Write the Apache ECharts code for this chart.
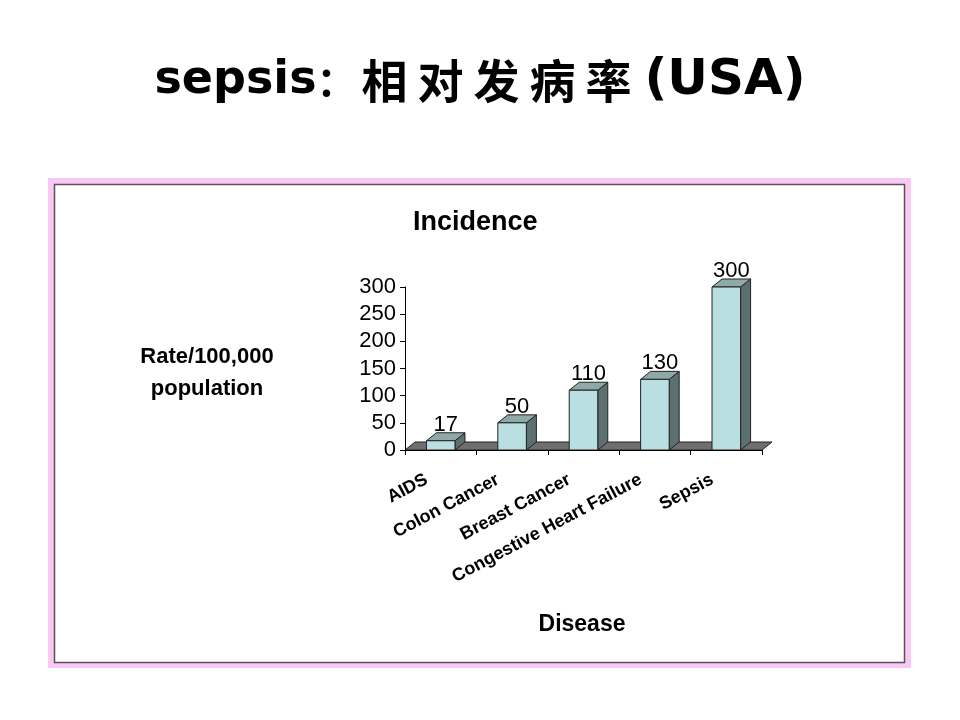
<!DOCTYPE html>
<html>
<head>
<meta charset="utf-8">
<script src="https://cdn.jsdelivr.net/npm/echarts@6/dist/echarts.min.js"></script>
<style>
  html, body { margin: 0; padding: 0; background: #fff; }
  #main { width: 960px; height: 720px; }
</style>
</head>
<body>
<div id="main"></div>
<script>
var chartDom = document.getElementById('main');
var myChart = echarts.init(chartDom);
var option;

// data
const diseases = ['AIDS', 'Colon Cancer', 'Breast Cancer', 'Congestive Heart Failure', 'Sepsis'];
const rates = [17, 50, 110, 130, 300];
const yTicks = [0, 50, 100, 150, 200, 250, 300];

const frontColor = '#b9dfe3';
const topColor = '#8fa8a8';
const sideColor = '#5c7070';
const floorColor = '#6f6f6f';
const edgeColor = '#222';
const DX = 10;   // depth offset of the fake 3d
const DY = 8;

function renderFloor(params, api)
{
  const cs = params.coordSys;
  const x0 = cs.x, x1 = cs.x + cs.width, by = cs.y + cs.height;
  return {
    type: 'polygon',
    shape: {
      points: [[x0, by], [x0 + DX, by - DY], [x1 + DX, by - DY], [x1, by]]
    },
    style: { fill: floorColor, stroke: edgeColor, lineWidth: 1 }
  };
}

function renderBar(params, api)
{
  const idx = api.value(0);
  const val = api.value(1);
  const base = api.coord([idx, 0]);
  const top = api.coord([idx, val]);
  const bw = api.size([1, 0])[0] * 0.4;
  const x0 = base[0] - bw / 2, x1 = base[0] + bw / 2;
  const ty = top[1], by = base[1];
  const st = { stroke: edgeColor, lineWidth: 1 };
  return {
    type: 'group',
    children: [
      {
        type: 'polygon',
        shape: { points: [[x1, ty], [x1 + DX, ty - DY], [x1 + DX, by - DY], [x1, by]] },
        style: Object.assign({ fill: sideColor }, st)
      },
      {
        type: 'polygon',
        shape: { points: [[x0, ty], [x0 + DX, ty - DY], [x1 + DX, ty - DY], [x1, ty]] },
        style: Object.assign({ fill: topColor }, st)
      },
      {
        type: 'rect',
        shape: { x: x0, y: ty, width: bw, height: by - ty },
        style: Object.assign({ fill: frontColor }, st)
      },
      {
        type: 'text',
        x: base[0] + DX / 2,
        y: ty - DY + 3,
        style: {
          text: String(val),
          fill: '#000',
          font: '22px "Liberation Sans Narrow", "Liberation Sans", Arial, sans-serif',
          align: 'center',
          verticalAlign: 'bottom'
        }
      }
    ]
  };
}

option = {
  backgroundColor: '#fff',
  animation: false,
  title: {
    left: 'center',
    top: 51,
    text: '{s|sepsis}{b|：}{c|相}{c|对}{c|发}{c|病}{c|率}{a|(USA)}',
    textStyle: {
      rich: {
        s: { fontFamily: 'DejaVu Sans', fontWeight: 'bold', fontSize: 46, color: '#000' },
        a: { fontFamily: 'DejaVu Sans', fontWeight: 'bold', fontSize: 50, color: '#000', padding: [0, 0, 0, 8] },
        b: { fontFamily: 'Noto Sans CJK SC', fontWeight: 'bold', fontSize: 40, color: '#000' },
        c: { fontFamily: 'Noto Sans CJK SC', fontWeight: 'bold', fontSize: 46, color: '#000', padding: [0, 5] }
      }
    }
  },
  graphic: [
    {
      type: 'rect',
      shape: { x: 51, y: 181, width: 857, height: 484 },
      style: { fill: 'none', stroke: '#f8c9f3', lineWidth: 6 },
      z: 0
    },
    {
      type: 'rect',
      shape: { x: 54.5, y: 184.5, width: 850, height: 478 },
      style: { fill: 'none', stroke: '#5b4f5b', lineWidth: 1.5 },
      z: 1
    },
    {
      type: 'text',
      left: 413, top: 209,
      style: { text: 'Incidence', font: 'bold 27px "Liberation Sans", Arial, sans-serif', fill: '#000' }
    },
    {
      type: 'text',
      x: 207, y: 373,
      style: {
        text: 'Rate/100,000\npopulation',
        font: 'bold 22px "Liberation Sans", Arial, sans-serif',
        lineHeight: 32,
        align: 'center',
        verticalAlign: 'middle',
        fill: '#000'
      }
    },
    {
      type: 'text',
      x: 582, y: 625,
      style: {
        text: 'Disease',
        font: 'bold 23px "Liberation Sans", Arial, sans-serif',
        align: 'center',
        verticalAlign: 'middle',
        fill: '#000'
      }
    }
  ],
  grid: {
    left: 405,
    right: 198,
    top: 287,
    bottom: 270
  },
  xAxis: {
    type: 'category',
    data: diseases,
    axisLine: { lineStyle: { color: '#000', width: 1 } },
    axisTick: { show: true, length: 5, lineStyle: { color: '#000' } },
    axisLabel: {
      interval: 0,
      rotate: 28,
      margin: 21,
      padding: [0, 16, 0, 0],
      color: '#000',
      fontFamily: 'Liberation Sans',
      fontWeight: 'bold',
      fontSize: 18
    },
    z: 5
  },
  yAxis: {
    type: 'value',
    min: 0,
    max: 300,
    interval: 50,
    axisLine: { show: true, lineStyle: { color: '#000', width: 1 } },
    axisTick: { show: true, length: 5, lineStyle: { color: '#000' } },
    splitLine: { show: false },
    axisLabel: {
      margin: 9,
      color: '#000',
      fontFamily: 'Liberation Sans',
      fontSize: 22,
      formatter: function (v) { return yTicks.indexOf(v) >= 0 ? String(v) : ''; }
    },
    z: 5
  },
  series: [
    {
      name: 'floor',
      type: 'custom',
      renderItem: renderFloor,
      data: [[0, 0]],
      silent: true,
      z: 1
    },
    {
      name: 'Incidence',
      type: 'custom',
      renderItem: renderBar,
      encode: { x: 0, y: 1 },
      data: rates.map(function (v, i) { return [i, v]; }),
      z: 3
    }
  ]
};

option && myChart.setOption(option);
</script>
</body>
</html>
